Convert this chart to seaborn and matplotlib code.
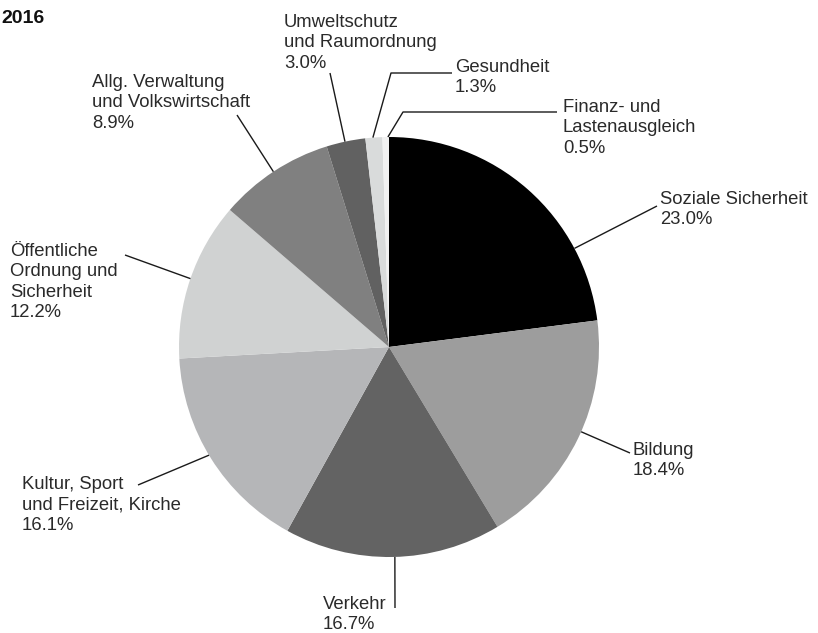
import numpy as np
import matplotlib
matplotlib.use("Agg")
import matplotlib.pyplot as plt
import seaborn as sns

# ---- data ----
categories = ["Soziale Sicherheit", "Bildung", "Verkehr",
              "Kultur, Sport\nund Freizeit, Kirche",
              "Öffentliche\nOrdnung und\nSicherheit",
              "Allg. Verwaltung\nund Volkswirtschaft",
              "Umweltschutz\nund Raumordnung", "Gesundheit",
              "Finanz- und\nLastenausgleich"]
shares = [23.0, 18.4, 16.7, 16.1, 12.2, 8.9, 3.0, 1.3, 0.5]
share_labels = ["23.0%", "18.4%", "16.7%", "16.1%", "12.2%", "8.9%", "3.0%", "1.3%", "0.5%"]
title = "2016"

# ---- style ----
colors = ["#000000", "#9d9d9d", "#636363", "#b5b6b8", "#d0d2d2",
          "#808080", "#616161", "#d9dbdb", "#f1f1f1"]

sns.set_theme(style="white")
plt.rcParams["font.family"] = ["Liberation Sans", "DejaVu Sans"]

W, H = 818, 633
fig = plt.figure(figsize=(W / 100, H / 100), dpi=100)
ax = fig.add_axes([0, 0, 1, 1])

cx, cy, R = 389, 347, 210
ax.pie(shares, colors=colors, startangle=-90, counterclock=True,
       center=(cx, cy), radius=R, frame=True,
       wedgeprops=dict(linewidth=0, antialiased=True))
ax.set_xlim(0, W)
ax.set_ylim(H, 0)
ax.set_aspect("equal")
ax.axis("off")

# leader lines: anchor angle on rim (deg clockwise from top), then bend points (px)
leaders = [
    (62.0, [(657, 206)]),
    (113.8, [(630, 453)]),
    (178.4, [(395, 608)]),
    (239.0, [(138, 485)]),
    (289.0, [(125, 255)]),
    (326.6, [(237, 115)]),
    (347.9, [(330, 73)]),
    (355.6, [(391, 73), (452, 73)]),
    (359.7, [(403, 112), (557, 112)]),
]
# label text positions (left x, top y in px)
label_pos = [(660, 191), (633, 442), (323, 596), (22, 476), (10, 243),
             (92, 74), (284, 14), (455, 59), (563, 99)]

fs = 13.3
for (ang, pts), (tx, ty), cat, lab in zip(leaders, label_pos, categories, share_labels):
    a = np.deg2rad(ang)
    ax0 = cx + R * np.sin(a)
    ay0 = cy - R * np.cos(a)
    xs = [ax0] + [p[0] for p in pts]
    ys = [ay0] + [p[1] for p in pts]
    ax.plot(xs, ys, color="#1a1a1a", lw=1.0, solid_capstyle="butt")
    ax.text(tx, ty, cat + "\n" + lab, ha="left", va="top", fontsize=fs,
            color="#2a2a2a", linespacing=1.26)

ax.text(1, 10, title, ha="left", va="top", fontsize=14, fontweight="bold",
        color="#111111")

fig.savefig("out.png", dpi=100)
